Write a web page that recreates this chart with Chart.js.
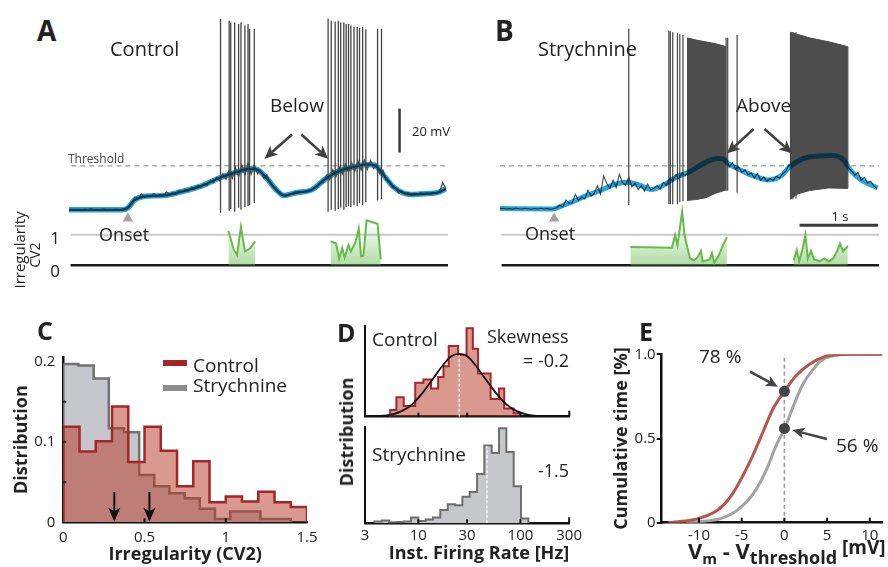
<!DOCTYPE html>
<html>
<head>
<meta charset="utf-8">
<title>Membrane potential, irregularity and firing rate</title>
<script src="https://cdn.jsdelivr.net/npm/chart.js@4.4.1/dist/chart.umd.min.js"></script>
<style>
  html, body { margin: 0; padding: 0; background: #fff; }
  #fig { position: relative; width: 888px; height: 567px; overflow: hidden;
         font-family: 'Open Sans', sans-serif; color: #222; }
  #fig canvas { position: absolute; }
  .t { position: absolute; white-space: nowrap; line-height: 1; }
  .sw { position: absolute; width: 24px; height: 6px; }
</style>
</head>
<body>
<div id="fig">
  <canvas id="chartA" width="391" height="266" style="left:63px;top:10px"></canvas>
  <canvas id="chartB" width="391" height="266" style="left:494px;top:10px"></canvas>
  <canvas id="chartC" width="325" height="227" style="left:0px;top:340px"></canvas>
  <canvas id="chartD1" width="255" height="100" style="left:330px;top:320px"></canvas>
  <canvas id="chartD2" width="255" height="142" style="left:330px;top:425px"></canvas>
  <canvas id="chartE" width="288" height="227" style="left:600px;top:340px"></canvas>
  <div class="sw" style="left:163px;top:360px;background:#a3262a"></div>
  <div class="sw" style="left:163px;top:385px;background:#8c8c8c"></div>
  <div class="t" style="left:688px;top:538.5px;font-weight:700;font-size:22px">V<span style="font-size:15px;position:relative;top:5px">m</span> - V<span style="font-size:18px;position:relative;top:5px">threshold</span><span style="font-size:19px;position:relative;top:-5px"> [mV]</span></div>
</div>
<script>
// ---------- data: traces (time in s, Vm - Vthreshold in mV) ----------
const traceStep = 0.04;
const threshold = 0;
const cvRefLevels = [0, 1];
const onsetTimes = [0.75, 0.69];

// A, control
const ctrlRaw = [
  -20.2, -19.8, -20.1, -19.9, -20.3, -19.7, -20.0, -19.5, -20.2, -19.9,
  -20.1, -19.6, -20.0, -19.8, -20.1, -19.7, -20.0, -19.6, -19.3, -18.2,
  -16.5, -14.2, -15.0, -12.8, -14.3, -13.2, -14.0, -12.6, -13.9, -12.9,
  -13.8, -11.8, -13.0, -12.2, -12.9, -11.0, -12.0, -10.6, -11.5, -9.8,
  -10.6, -8.9, -9.8, -8.0, -8.9, -6.6, -7.6, -5.2, -6.8, -3.5,
  -6.0, -2.0, -5.5, -0.8, -4.8, 0.5, -4.0, 1.2, -3.8, 0.3,
  -3.5, -2.0, -5.5, -4.0, -8.0, -9.5, -10.5, -12.3, -13.2, -13.9,
  -12.6, -12.9, -11.8, -12.5, -11.6, -12.0, -11.2, -11.3, -9.9, -9.6,
  -7.5, -7.6, -4.2, -6.2, -1.8, -4.8, -0.6, -3.6, 0.8, -2.9,
  1.5, -2.4, 2.2, -1.8, 2.6, -1.5, 2.4, -1.2, 0.5, -3.5,
  -2.0, -6.5, -6.8, -9.9, -10.2, -12.5, -11.4, -12.9, -12.0, -13.5,
  -12.3, -13.2, -12.0, -13.1, -12.2, -13.0, -11.9, -12.7, -11.8, -7.5,
  -10.4
];
const ctrlSmoothT = [0, 0.67, 0.75, 0.83, 0.95, 1.20, 1.48, 1.69, 1.90, 2.15, 2.31, 2.40, 2.52, 2.64, 2.74,
  2.89, 3.09, 3.26, 3.42, 3.63, 3.79, 3.89, 4.00, 4.12, 4.25, 4.37, 4.57, 4.69, 4.80];
const ctrlSmoothV = [-20.0, -20.0, -19.1, -15.7, -13.9, -13.5, -11.3, -9.1, -5.7, -2.6, -1.3, -1.7, -5.7, -10.9, -13.5,
  -12.2, -10.9, -6.1, -2.6, -0.4, 0.7, 0.4, -3.9, -9.1, -12.2, -13.0, -12.6, -12.2, -10.4];
const ctrlSpikeT = [1.93, 2.04, 2.06, 2.11, 2.16, 2.19, 2.24, 2.28, 2.30, 2.36,
  3.30, 3.34, 3.39, 3.43, 3.46, 3.50, 3.53, 3.56, 3.59, 3.63, 3.67, 3.70, 3.74, 3.78, 3.93, 3.98];
const ctrlSpikeTop = [67.0, 66.1, 65.3, 65.3, 64.6, 65.3, 63.9, 64.6, 62.5, 62.5,
  67.1, 66.1, 65.7, 66.1, 65.3, 65.3, 64.6, 64.6, 63.9, 63.2, 63.2, 62.7, 63.2, 62.2, 62.5, 62.5];
const ctrlSpikeBottom = [-21.3, -20.4, -19.6, -20.9, -19.1, -20.0, -18.7, -18.3, -17.8, -16.9,
  -20.9, -20.0, -20.4, -19.6, -19.1, -20.0, -18.7, -18.3, -18.7, -17.8, -18.3, -16.9, -17.8, -16.5, -15.7, -15.2];
const ctrlCvT1 = [2.03, 2.10, 2.14, 2.19, 2.24, 2.31, 2.37];
const ctrlCvV1 = [1.12, 0.50, 0.34, 1.26, 0.45, 0.56, 0.78];
const ctrlCvT2 = [3.33, 3.40, 3.44, 3.48, 3.51, 3.56, 3.59, 3.65, 3.69, 3.72, 3.75, 3.79, 3.93, 3.97];
const ctrlCvV2 = [0.78, 0.72, 0.22, 0.56, 0.25, 0.66, 0.45, 0.76, 1.19, 0.29, 0.32, 1.47, 1.36, 0.19];

// B, strychnine
const stryRaw = [
  -19.5, -19.3, -19.6, -19.4, -19.7, -19.2, -19.5, -19.6, -19.3, -19.5,
  -19.7, -19.4, -19.6, -19.3, -19.6, -19.4, -19.7, -19.5, -19.0, -18.0,
  -18.6, -15.5, -17.0, -16.8, -13.0, -15.8, -14.2, -15.0, -11.0, -13.8,
  -12.5, -9.0, -12.8, -4.5, -8.0, -10.2, -6.5, -9.8, -3.8, -7.5,
  -8.8, -5.0, -9.5, -7.8, -10.8, -9.0, -11.5, -8.2, -11.0, -10.2,
  -9.0, -10.5, -7.5, -8.8, -5.5, -7.0, -4.0, -6.0, -3.2, -4.5,
  -2.5, -1.8, -2.2, -0.5, 0.0, 1.5, 1.8, 2.6, 3.0, 3.4,
  3.2, 1.5, 3.8, -0.5, 1.5, -1.5, -0.5, -3.0, -1.8, -4.0,
  -3.2, -5.5, -3.5, -6.5, -5.0, -7.0, -5.8, -6.5, -4.8, -5.5,
  -3.5, -2.5, 0.5, -0.5, 2.0, 1.5, 3.0, 3.5, 4.0, 4.2,
  4.3, 4.5, 4.6, 4.7, 4.8, 4.8, 4.7, 4.3, 3.8, 3.0,
  1.2, -0.8, -2.5, -4.2, -3.0, -6.5, -5.2, -7.8, -7.0, -9.0,
  -10.2
];
const strySmoothT = [0, 0.67, 0.78, 0.94, 1.10, 1.27, 1.44, 1.60, 1.77, 1.93, 2.09, 2.26, 2.42, 2.58, 2.75,
  2.83, 2.91, 3.07, 3.25, 3.41, 3.57, 3.69, 3.86, 4.06, 4.23, 4.36, 4.48, 4.60, 4.81];
const strySmoothV = [-19.4, -19.6, -18.3, -16.1, -13.5, -11.3, -8.6, -7.4, -8.6, -10.7, -8.6, -4.8, -2.6, 0.9, 3.3,
  3.3, 0.9, -2.0, -4.8, -6.4, -4.8, -0.4, 3.3, 4.5, 4.8, 3.3, -2.6, -6.4, -10.0];
const strySpikeT = [1.64, 2.15, 2.17, 2.20, 2.26, 2.29, 2.33, 2.88, 2.90, 3.02, 3.70, 3.73, 3.77, 4.40, 4.43];
const strySpikeTop = [62.6, 61.7, 61.3, 60.9, 60.4, 60.0, 59.6, 58.3, 58.3, 59.6, 60.9, 60.9, 60.9, 54.3, 54.3];
const strySpikeBottom = [-17.8, -17.4, -17.4, -17.4, -17.4, -16.5, -16.1, -11.3, -11.3, -12.2, -15.2, -15.2, -14.8, -10.0, -10.0];
// dense bursts: envelope of spike peaks and troughs
const burst1T = [2.38, 2.50, 2.62, 2.75, 2.88];
const burst1Top = [58.3, 57.3, 56.5, 55.6, 54.3];
const burst1Bottom = [-15.7, -15.3, -14.5, -12.4, -10.9];
const burst2T = [3.70, 3.78, 3.94, 4.19, 4.43];
const burst2Top = [60.9, 60.0, 58.3, 56.5, 54.3];
const burst2Bottom = [-15.1, -12.9, -11.2, -10.0, -10.3];
const stryCvT1 = [1.66, 2.19, 2.23, 2.26, 2.32, 2.35, 2.42, 2.47, 2.51, 2.56, 2.58, 2.67, 2.70, 2.73, 2.79, 2.83, 2.89];
const stryCvV1 = [0.60, 0.57, 0.99, 0.66, 1.75, 0.97, 0.22, 0.16, 0.24, 0.47, 0.12, 0.19, 0.40, 0.08, 0.34, 0.60, 0.92];
const stryCvT2 = [3.74, 3.78, 3.81, 3.85, 3.89, 3.92, 3.96, 4.00, 4.07, 4.13, 4.19, 4.25, 4.30, 4.33, 4.37, 4.43];
const stryCvV2 = [0.16, 0.50, 0.13, 0.50, 0.99, 0.22, 0.47, 0.19, 0.13, 0.22, 0.12, 0.24, 0.50, 0.71, 0.45, 0.63];

// ---------- C: CV2 histograms ----------
const cCtrlEdges = [0, 0.1, 0.2, 0.3, 0.4, 0.5, 0.6, 0.7, 0.8, 0.9, 1.0, 1.1, 1.2, 1.3, 1.4, 1.5];
const cCtrlDist = [0.119, 0.088, 0.101, 0.144, 0.075, 0.119, 0.089, 0.045, 0.076, 0.025, 0.032, 0.026, 0.038, 0.025, 0.019];
const cStryEdges = [0, 0.093, 0.187, 0.280, 0.373, 0.467, 0.560, 0.653, 0.747, 0.840, 0.933, 1.027, 1.120, 1.213, 1.307, 1.400];
const cStryDist = [0.197, 0.195, 0.179, 0.117, 0.112, 0.059, 0.045, 0.036, 0.030, 0.017, 0.004, 0.0135, 0.0135, 0.004, 0.004];
const cMeanCv = [0.314, 0.530];

// ---------- D: instantaneous firing rate histograms (Hz) ----------
const dCtrlEdges = [5.29, 6.09, 7.18, 9.31, 11.2, 13.3, 15.6, 17.6, 19.8, 24.5, 29.6, 34.1, 38.4, 43.1, 50.9, 61.5, 69.2, 85.5, 98.6];
const dCtrlDist = [0.075, 0.22, 0.12, 0.385, 0.42, 0.32, 0.45, 0.57, 0.80, 0.70, 1.0, 0.77, 0.49, 0.49, 0.20, 0.32, 0.094, 0.04];
const dFitRate = [3.80, 5.41, 6.85, 8.67, 10.98, 13.9, 17.6, 20.8, 25.1, 30.3, 35.7, 45.2, 57.3, 72.5, 91.8, 116, 166, 265];
const dFitDist = [0.004, 0.024, 0.063, 0.14, 0.27, 0.43, 0.59, 0.68, 0.71, 0.68, 0.59, 0.43, 0.27, 0.14, 0.063, 0.024, 0.004, 0.0];
const dStryEdges = [3.71, 4.38, 5.16, 6.09, 7.18, 8.47, 10.0, 11.8, 13.9, 16.4, 19.4, 22.9, 27.0, 31.8, 37.6, 44.3, 52.3, 61.7, 72.8, 85.9, 101.3, 119.6];
const dStryDist = [0.02, 0.03, 0.01, 0.015, 0.02, 0.06, 0.025, 0.04, 0.06, 0.14, 0.20, 0.19, 0.28, 0.33, 0.52, 0.82, 0.74, 1.0, 0.75, 0.39, 0.05];
const dMeanRate = [25.1, 47];
const dMeanHeight = [0.71, 0.81];
const dRateTicks = [3, 10, 30, 100, 300];

// ---------- E: cumulative time vs distance to threshold ----------
const eCtrlX = [-13.6, -12.0, -10, -7.8, -6.3, -4.8, -3.6, -2.5, -1.3, 0, 1.3, 2.9, 4.7, 6.3, 7.8, 11.5];
const eCtrlY = [0, 0.008, 0.026, 0.075, 0.155, 0.285, 0.41, 0.54, 0.68, 0.78, 0.87, 0.94, 0.986, 0.998, 1.0, 1.0];
const eStryX = [-11.5, -10, -7.4, -5.5, -3.6, -2.1, -1.0, 0, 1.0, 2.1, 3.3, 4.4, 5.6, 7.1, 11.5];
const eStryY = [0, 0.006, 0.026, 0.075, 0.175, 0.315, 0.455, 0.556, 0.686, 0.816, 0.906, 0.966, 0.99, 1.0, 1.0];
const eAtThreshold = [0.78, 0.56];

// ---------- helpers ----------
Chart.defaults.font.family = "'Open Sans', sans-serif";
Chart.defaults.color = '#222';
Chart.defaults.animation = false;
Chart.defaults.plugins.legend.display = false;
Chart.defaults.plugins.tooltip.enabled = false;
Chart.defaults.elements.point.radius = 0;

const sampled = vals => vals.map((v, i) => ({ x: +(i * traceStep).toFixed(2), y: v }));
const pairs = (xs, ys) => xs.map((x, i) => ({ x, y: ys[i] }));
const spikeSegs = (ts, lo, hi) => ts.flatMap((t, i) => [{ x: t, y: lo[i] }, { x: t, y: hi[i] }, { x: t, y: null }]);
const steps = (edges, h) => [{ x: edges[0], y: 0 }, ...h.map((v, i) => ({ x: edges[i], y: v })), { x: edges[edges.length - 1], y: 0 }];
const fixTicks = vals => scale => { scale.ticks = vals.map(v => ({ value: v })); };

function greenFill(ctx) {
  const fallback = 'rgba(98,185,74,0.25)';
  const s = ctx.chart.scales.cv;
  if (!s || !ctx.chart.chartArea) return fallback;
  const y0 = s.getPixelForValue(0), y1 = s.getPixelForValue(1.3);
  if (!isFinite(y0) || !isFinite(y1) || y0 === y1) return fallback;
  const g = ctx.chart.ctx.createLinearGradient(0, y0, 0, y1);
  g.addColorStop(0, 'rgba(98,185,74,0.5)');
  g.addColorStop(1, 'rgba(98,185,74,0.05)');
  return g;
}

function arrowPlugin(items, o) {
  return {
    id: 'arrows',
    afterDatasetsDraw(chart) {
      const c = chart.ctx, xs = chart.scales.x, ys = chart.scales.y;
      c.save();
      c.strokeStyle = c.fillStyle = o.color;
      c.lineWidth = o.width;
      items.forEach(a => {
        const x1 = xs.getPixelForValue(a[0]), y1 = ys.getPixelForValue(a[1]);
        const x2 = xs.getPixelForValue(a[2]), y2 = ys.getPixelForValue(a[3]);
        const ang = Math.atan2(y2 - y1, x2 - x1), ca = Math.cos(ang), sa = Math.sin(ang);
        const bx = x2 - o.head * ca, by = y2 - o.head * sa;
        const nx = x2 - o.head * 0.75 * ca, ny = y2 - o.head * 0.75 * sa;
        c.beginPath(); c.moveTo(x1, y1); c.lineTo(nx, ny); c.stroke();
        c.beginPath();
        c.moveTo(x2, y2);
        c.lineTo(bx + o.headW / 2 * sa, by - o.headW / 2 * ca);
        c.lineTo(nx, ny);
        c.lineTo(bx - o.headW / 2 * sa, by + o.headW / 2 * ca);
        c.closePath(); c.fill();
      });
      c.restore();
    }
  };
}

function innerTicks(spec) {
  return {
    id: 'innerTicks',
    afterDraw(chart) {
      const c = chart.ctx, a = chart.chartArea, xs = chart.scales.x, ys = chart.scales.y;
      c.save(); c.strokeStyle = '#111'; c.lineWidth = 2;
      (spec.x || []).forEach(([v, len]) => {
        const p = xs.getPixelForValue(v);
        c.beginPath(); c.moveTo(p, a.bottom); c.lineTo(p, a.bottom - len); c.stroke();
      });
      (spec.y || []).forEach(([v, len]) => {
        const p = ys.getPixelForValue(v);
        c.beginPath(); c.moveTo(a.left, p); c.lineTo(a.left + len, p); c.stroke();
      });
      c.restore();
    }
  };
}

// the smoothed Vm is laid over the raw trace as in a multiply blend
const blendPlugin = {
  id: 'blend',
  beforeDatasetDraw(chart, args) {
    if (chart.data.datasets[args.index].blend) { chart.ctx.save(); chart.ctx.globalCompositeOperation = 'multiply'; }
  },
  afterDatasetDraw(chart, args) {
    if (chart.data.datasets[args.index].blend) chart.ctx.restore();
  }
};

function traceScales() {
  return {
    x: { type: 'linear', display: false, min: 0, max: 4.827 },
    y: { type: 'linear', display: false, min: -47.39, max: 68.26 },
    cv: { type: 'linear', axis: 'y', position: 'left', display: false, min: -0.156, max: 8.156 }
  };
}

function cvSets(t1, v1, t2, v2) {
  const line = { yAxisID: 'cv', borderColor: '#65ba48', borderWidth: 2, fill: 'origin', backgroundColor: greenFill };
  return [
    Object.assign({ data: pairs(t1, v1) }, line),
    Object.assign({ data: pairs(t2, v2) }, line),
    { data: [{ x: 0.02, y: cvRefLevels[1] }, { x: 4.83, y: cvRefLevels[1] }], yAxisID: 'cv', borderColor: '#c9c9c9', borderWidth: 2 },
    { data: [{ x: 0.02, y: cvRefLevels[0] }, { x: 4.83, y: cvRefLevels[0] }], yAxisID: 'cv', borderColor: '#1c1c1c', borderWidth: 2.5 }
  ];
}

// ---------- A ----------
new Chart(document.getElementById('chartA'), {
  type: 'line',
  data: { datasets: [
    { data: pairs(ctrlSmoothT, ctrlSmoothV), borderColor: '#0f3a52', borderWidth: 2.4, cubicInterpolationMode: 'monotone' },
    { data: sampled(ctrlRaw), borderColor: '#4a4a4a', borderWidth: 1.3 },
    { data: spikeSegs(ctrlSpikeT, ctrlSpikeBottom, ctrlSpikeTop), borderColor: '#454545', borderWidth: 1.3 },
    { data: pairs(ctrlSmoothT, ctrlSmoothV), borderColor: '#27a6de', borderWidth: 5.5, cubicInterpolationMode: 'monotone' },
    { data: [{ x: 0.03, y: threshold }, { x: 4.83, y: threshold }], borderColor: '#9a9a9a', borderWidth: 1.2, borderDash: [5, 4] },
    { data: [{ x: 4.21, y: 6.1 }, { x: 4.21, y: 26.1 }], borderColor: '#3a3a3a', borderWidth: 2.5 },
    { data: [{ x: onsetTimes[0], y: -23.9 }], showLine: false, pointStyle: 'triangle', pointRadius: 6,
      pointBackgroundColor: '#a3a3a3', pointBorderWidth: 0 },
    ...cvSets(ctrlCvT1, ctrlCvV1, ctrlCvT2, ctrlCvV2)
  ] },
  options: { responsive: false, layout: { padding: 0 }, scales: traceScales() },
  plugins: [arrowPlugin([[2.84, 14.3, 2.49, 3.3], [2.96, 14.3, 3.30, 3.3]], { color: '#404040', width: 2.5, head: 13, headW: 12 })]
});

// ---------- B ----------
new Chart(document.getElementById('chartB'), {
  type: 'line',
  data: { datasets: [
    { data: pairs(strySmoothT, strySmoothV), borderColor: '#27a6de', borderWidth: 5, cubicInterpolationMode: 'monotone', blend: true },
    { data: pairs(burst1T, burst1Top), borderColor: '#4a4a4a', borderWidth: 1, backgroundColor: '#4d4d4d', fill: '+1' },
    { data: pairs(burst1T, burst1Bottom), borderColor: '#4a4a4a', borderWidth: 1 },
    { data: pairs(burst2T, burst2Top), borderColor: '#4a4a4a', borderWidth: 1, backgroundColor: '#4d4d4d', fill: '+1' },
    { data: pairs(burst2T, burst2Bottom), borderColor: '#4a4a4a', borderWidth: 1 },
    { data: sampled(stryRaw), borderColor: '#4a4a4a', borderWidth: 1.1 },
    { data: spikeSegs(strySpikeT, strySpikeBottom, strySpikeTop), borderColor: '#454545', borderWidth: 1.2 },
    { data: [{ x: 0, y: threshold }, { x: 4.83, y: threshold }], borderColor: '#9a9a9a', borderWidth: 1.2, borderDash: [5, 4] },
    { data: [{ x: 3.815, y: -27 }, { x: 4.815, y: -27 }], borderColor: '#3a3a3a', borderWidth: 3 },
    { data: [{ x: onsetTimes[1], y: -23.9 }], showLine: false, pointStyle: 'triangle', pointRadius: 6,
      pointBackgroundColor: '#a3a3a3', pointBorderWidth: 0 },
    ...cvSets(stryCvT1, stryCvV1, stryCvT2, stryCvV2)
  ] },
  options: { responsive: false, layout: { padding: 0 }, scales: traceScales() },
  plugins: [blendPlugin, arrowPlugin([[3.23, 16.8, 2.89, 5.7], [3.37, 16.8, 3.72, 5.7]], { color: '#404040', width: 2.5, head: 13, headW: 12 })]
});

// ---------- C ----------
new Chart(document.getElementById('chartC'), {
  type: 'line',
  data: { datasets: [
    { data: steps(cCtrlEdges, cCtrlDist), stepped: true, borderColor: '#a3262a', borderWidth: 2.5,
      fill: 'origin', backgroundColor: 'rgba(185,60,40,0.52)' },
    { data: steps(cStryEdges, cStryDist), stepped: true, borderColor: '#727272', borderWidth: 2.5,
      fill: 'origin', backgroundColor: '#c5c7cc' }
  ] },
  options: {
    responsive: false,
    layout: { padding: { top: 12, right: 18, left: 0, bottom: 0 } },
    scales: {
      x: { type: 'linear', min: 0, max: 1.5, afterBuildTicks: fixTicks([0, 0.5, 1, 1.5]),
        ticks: { font: { size: 15 }, padding: 6, callback: v => String(v) },
        grid: { display: false, drawTicks: false }, border: { display: true, color: '#111', width: 2.5 },
        title: { display: true, text: 'Irregularity (CV2)', font: { size: 18, weight: 'bold' }, padding: { top: 0, bottom: 1 } },
        afterFit: s => { s.height = 44.7; } },
      y: { type: 'linear', min: 0, max: 0.2057, afterBuildTicks: fixTicks([0, 0.1, 0.2]),
        ticks: { font: { size: 15 }, padding: 8, callback: v => v === 0 ? '0' : v.toFixed(1) },
        grid: { display: false, drawTicks: false }, border: { display: true, color: '#111', width: 2.5 },
        title: { display: true, text: 'Distribution', font: { size: 18, weight: 'bold' }, padding: { top: 11, bottom: 0 } },
        afterFit: s => { s.width = 63.3; } }
    }
  },
  plugins: [
    innerTicks({ x: [[0.5, 4], [1, 4]], y: [[0.05, 3], [0.1, 3], [0.15, 3]] }),
    arrowPlugin(cMeanCv.map(m => [m, 0.0377, m, 0.0007]), { color: '#111', width: 2, head: 14, headW: 12 })
  ]
});

// ---------- D ----------
function rateScales(showTicks, xHeight, yMax) {
  return {
    x: { type: 'logarithmic', min: 3, max: 300, afterBuildTicks: fixTicks(dRateTicks),
      ticks: { display: showTicks, font: { size: 15 }, padding: 3, callback: v => String(v) },
      grid: { display: false, drawTicks: false }, border: { display: true, color: '#111', width: 2.5 },
      title: { display: showTicks, text: 'Inst. Firing Rate [Hz]', align: 'end', font: { size: 18, weight: 'bold' }, padding: { top: 0, bottom: 2.5 } },
      afterFit: s => { s.height = xHeight; } },
    y: { type: 'linear', min: 0, max: yMax, ticks: { display: false },
      grid: { display: false, drawTicks: false }, border: { display: true, color: '#111', width: 2 },
      afterFit: s => { s.width = 35; } }
  };
}
const rateTicks = innerTicks({ x: [[10, 4], [30, 4], [100, 4], [300, 6]] });

new Chart(document.getElementById('chartD1'), {
  type: 'line',
  data: { datasets: [
    { data: pairs(dFitRate, dFitDist), borderColor: '#111', borderWidth: 1.8, cubicInterpolationMode: 'monotone' },
    { data: [{ x: dMeanRate[0], y: 0 }, { x: dMeanRate[0], y: dMeanHeight[0] }], borderColor: '#fff', borderWidth: 1.3, borderDash: [3, 2] },
    { data: steps(dCtrlEdges, dCtrlDist), stepped: true, borderColor: '#a3262a', borderWidth: 2,
      fill: 'origin', backgroundColor: 'rgba(185,60,40,0.52)' }
  ] },
  options: { responsive: false, layout: { padding: { top: 6, right: 15.7, left: 0, bottom: 0 } },
    scales: rateScales(false, 3.3, 1.026) },
  plugins: [rateTicks]
});

new Chart(document.getElementById('chartD2'), {
  type: 'line',
  data: { datasets: [
    { data: [{ x: dMeanRate[1], y: 0 }, { x: dMeanRate[1], y: dMeanHeight[1] }], borderColor: '#fff', borderWidth: 1.3, borderDash: [3, 2] },
    { data: steps(dStryEdges, dStryDist), stepped: true, borderColor: '#6e6e6e', borderWidth: 2,
      fill: 'origin', backgroundColor: '#c6c7cb' }
  ] },
  options: { responsive: false, layout: { padding: { top: 2, right: 15.7, left: 0, bottom: 0 } },
    scales: rateScales(true, 43.7, 1.0137) },
  plugins: [rateTicks]
});

// ---------- E ----------
new Chart(document.getElementById('chartE'), {
  type: 'line',
  data: { datasets: [
    { data: eAtThreshold.map(v => ({ x: 0, y: v })), showLine: false, pointRadius: 5.5,
      pointBackgroundColor: '#454545', pointBorderWidth: 0 },
    { data: pairs(eCtrlX, eCtrlY), borderColor: '#b4574a', borderWidth: 3, cubicInterpolationMode: 'monotone' },
    { data: pairs(eStryX, eStryY), borderColor: '#a3a3a3', borderWidth: 3, cubicInterpolationMode: 'monotone' },
    { data: [{ x: 0, y: 0 }, { x: 0, y: 1 }], borderColor: '#9a9a9a', borderWidth: 1.6, borderDash: [4, 3] }
  ] },
  options: {
    responsive: false,
    layout: { padding: { top: 14.3, right: 1.3, left: 0, bottom: 0 } },
    scales: {
      x: { type: 'linear', min: -14.37, max: 11.49, afterBuildTicks: fixTicks([-10, -5, 0, 5, 10]),
        ticks: { font: { size: 15 }, padding: 4.5, callback: v => String(v) },
        grid: { display: false, drawTicks: false }, border: { display: true, color: '#111', width: 2.5 },
        afterFit: s => { s.height = 44.3; } },
      y: { type: 'linear', min: 0, max: 1, afterBuildTicks: fixTicks([0, 0.5, 1]),
        ticks: { font: { size: 15 }, padding: 1, callback: v => v === 0 ? '0' : v.toFixed(1) },
        grid: { drawOnChartArea: false, drawTicks: true, tickLength: 5, color: '#111', lineWidth: 2 },
        border: { display: true, color: '#111', width: 2.5 },
        title: { display: true, text: 'Cumulative time [%]', font: { size: 18, weight: 'bold' }, padding: { top: 11, bottom: 0 } },
        afterFit: s => { s.width = 61.7; } }
    }
  },
  plugins: [
    innerTicks({ x: [[-10, 5], [-5, 5], [0, 5], [5, 5], [10, 5]] }),
    arrowPlugin([[-4.02, 0.897, -0.77, 0.808], [4.98, 0.497, 0.95, 0.55]], { color: '#444', width: 2.5, head: 12, headW: 11 })
  ]
});

// ---------- text labels ----------
const fig = document.getElementById('fig');
function label(txt, x, base, size, o = {}) {
  const d = document.createElement('div');
  d.className = 't';
  d.textContent = txt;
  d.style.fontSize = size + 'px';
  d.style.top = (base - 0.888 * size) + 'px';
  d.style.left = x + 'px';
  if (o.bold) d.style.fontWeight = '700';
  if (o.color) d.style.color = o.color;
  if (o.align === 'right') d.style.transform = 'translateX(-100%)';
  if (o.align === 'center') d.style.transform = 'translateX(-50%)';
  fig.appendChild(d);
}
function vlabel(txt, cx, cy, size, o = {}) {
  const d = document.createElement('div');
  d.className = 't';
  d.textContent = txt;
  d.style.fontSize = size + 'px';
  d.style.left = cx + 'px';
  d.style.top = cy + 'px';
  if (o.bold) d.style.fontWeight = '700';
  d.style.transform = 'translate(-50%,-50%) rotate(-90deg)';
  fig.appendChild(d);
}

label('A', 37, 41, 28, { bold: true });
label('Control', 110, 57, 20);
label('Below', 270, 113, 19);
label('20 mV', 412, 137, 13);
label('Threshold', 68, 164, 12, { color: '#444' });
label('Onset', 99, 241, 18);
label('1', 60, 244, 17, { align: 'right' });
label('0', 60, 277, 17, { align: 'right' });
vlabel('Irregularity', 19, 250, 15);
vlabel('CV2', 34.5, 255, 14);

label('B', 495, 41, 28, { bold: true });
label('Strychnine', 538, 57, 20);
label('Above', 736, 113, 19);
label('1 s', 840, 222, 13, { align: 'center' });
label('Onset', 525, 240, 18);

label('C', 37, 340, 25, { bold: true });
label('Control', 193, 373, 19);
label('Strychnine', 193, 392.5, 19);

label('D', 337, 342, 25, { bold: true });
label('Control', 372, 347, 19);
label('Skewness', 487, 343, 18);
label('= -0.2', 569, 367, 18, { align: 'right' });
label('Strychnine', 372, 462, 19);
label('-1.5', 569, 477, 18, { align: 'right' });
vlabel('Distribution', 345.5, 431.7, 18, { bold: true });

label('E', 639, 341, 25, { bold: true });
label('78 %', 699, 364, 19);
label('56 %', 836, 453, 19);
</script>
</body>
</html>
